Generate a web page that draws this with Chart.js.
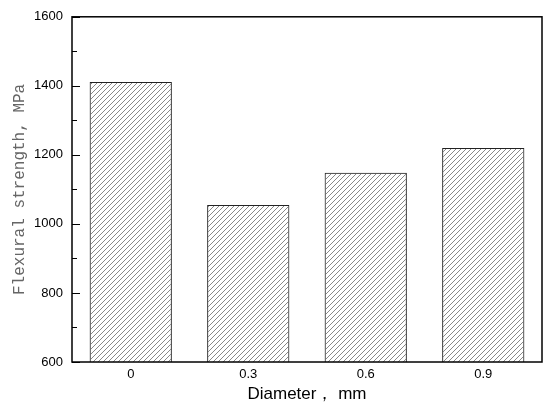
<!DOCTYPE html>
<html>
<head>
<meta charset="utf-8">
<script src="https://cdn.jsdelivr.net/npm/chart.js@4"></script>
<style>
  html, body { margin: 0; padding: 0; background: #fff; }
  #wrap { width: 550px; height: 407px; }
</style>
</head>
<body>
<div id="wrap"><canvas id="myChart"></canvas></div>
<script>
const diameters = ['0', '0.3', '0.6', '0.9'];
const strength = [1411, 1055, 1148, 1220];
const yTicks = [600, 800, 1000, 1200, 1400, 1600];
const yMinorTicks = [700, 900, 1100, 1300, 1500];

function hatch() {
    const c = document.createElement('canvas');
    c.width = 5;
    c.height = 5;
    const g = c.getContext('2d');
    g.strokeStyle = '#555';
    g.lineWidth = 0.7;
    g.beginPath();
    g.moveTo(-1, 6); g.lineTo(6, -1);
    g.moveTo(-1, 1); g.lineTo(1, -1);
    g.moveTo(4, 6); g.lineTo(6, 4);
    g.stroke();
    return g.createPattern(c, 'repeat');
}

// frame + inward ticks
const frame = {
    id: 'frame',
    afterDraw(chart) {
        const ctx = chart.ctx;
        const a = chart.chartArea;
        const y = chart.scales.y;
        ctx.save();
        ctx.strokeStyle = '#000';
        ctx.lineWidth = 1.5;
        ctx.strokeRect(a.left, a.top, a.right - a.left, a.bottom - a.top);
        ctx.lineWidth = 1;
        ctx.beginPath();
        for (let v of yTicks) {
            const p = Math.round(y.getPixelForValue(v)) + 0.5;
            ctx.moveTo(a.left, p); ctx.lineTo(a.left + 8, p);
        }
        for (let v of yMinorTicks) {
            const p = Math.round(y.getPixelForValue(v)) + 0.5;
            ctx.moveTo(a.left, p); ctx.lineTo(a.left + 5, p);
        }
        ctx.stroke();
        ctx.restore();
    }
};

const ctx = document.getElementById('myChart').getContext('2d');

new Chart(ctx, {
    type: 'bar',
    data: {
        labels: diameters,
        datasets: [{
            data: strength,
            backgroundColor: hatch(),
            borderColor: '#222',
            borderWidth: 1,
            barPercentage: 0.7,
            categoryPercentage: 1.0
        }]
    },
    options: {
        responsive: true,
        maintainAspectRatio: false,
        animation: false,
        layout: { padding: { top: 15, right: 8, left: 0, bottom: 0 } },
        plugins: {
            legend: { display: false },
            tooltip: { enabled: false }
        },
        scales: {
            x: {
                grid: { display: false, drawTicks: false },
                border: { display: false },
                ticks: {
                    color: '#000',
                    font: { family: 'Liberation Sans, Arial, sans-serif', size: 13 },
                    padding: 5
                },
                title: {
                    display: true,
                    text: 'Diameter， mm',
                    color: '#000',
                    font: { family: 'Liberation Sans, Arial, sans-serif', size: 17 },
                    padding: { top: 2, bottom: 2 }
                },
                afterFit(scale) { scale.height = 45; }
            },
            y: {
                min: 600,
                max: 1600,
                grid: { display: false, drawTicks: false },
                border: { display: false },
                afterBuildTicks(scale) {
                    scale.ticks = yTicks.map(v => ({ value: v }));
                },
                ticks: {
                    color: '#000',
                    font: { family: 'Liberation Sans, Arial, sans-serif', size: 13 },
                    padding: 9,
                    callback: (v) => String(v)
                },
                title: {
                    display: true,
                    text: 'Flexural strength, MPa',
                    color: '#666',
                    font: { family: 'Liberation Mono, monospace', size: 16 },
                    padding: { top: 10, bottom: 0 }
                },
                afterFit(scale) { scale.width = 72; }
            }
        }
    },
    plugins: [frame]
});
</script>
</body>
</html>
